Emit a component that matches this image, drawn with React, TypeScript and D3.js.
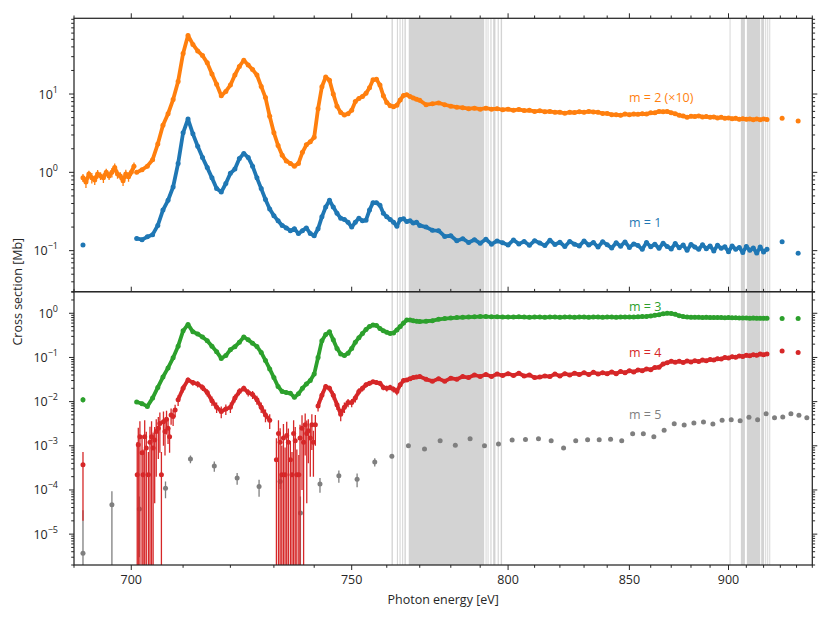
import * as d3 from 'd3'

// energy axis is logarithmic in (E - 600 eV)
const E0 = 600

// measurement grids [eV]
const fineEnergy = d3.range(701, 771)
const coarseEnergy = d3.range(772, 923, 2)
const tailEnergy = [931.1, 941.0]
const headEnergy = [691.5]
const m2HeadEnergy = d3.range(691.5, 701, 0.5)
const m5Energy = d3.range(691.5, 947, 5)

// m = 2 (x10), top panel [Mb]
const m2Head = [0.85, 0.75, 0.95, 0.85, 0.8, 0.95, 0.9, 0.85, 1.0, 0.9, 1.0, 1.15, 0.95, 0.9, 0.78, 0.95, 0.88, 1.0, 1.2]
const m2HeadErr = [0.1, 0.12, 0.1, 0.13, 0.11, 0.12, 0.1, 0.12, 0.11, 0.1, 0.14, 0.15, 0.12, 0.1, 0.11, 0.13, 0.12, 0.11, 0.14]
const m2Fine = [
  1.0, 1.08, 1.2, 1.45, 2.3, 4.0, 5.6, 8.5, 14.5, 33,
  56, 43, 35.5, 31, 25, 18, 13.3, 9.5, 10.8, 13,
  17.5, 22.5, 27, 23.5, 20.5, 17.5, 12.5, 9, 5.2, 3.2,
  2.2, 1.65, 1.4, 1.3, 1.2, 1.3, 1.8, 2.25, 2.45, 2.8,
  6.5, 12.4, 16.5, 15, 10, 7.0, 5.8, 5.4, 5.6, 6.2,
  8.0, 8.8, 9.3, 10.2, 12, 15.2, 15.4, 13, 9.5, 7.8,
  7.1, 6.9, 7.2, 8.4, 9.6, 9.8, 9.3, 8.9, 8.6, 8.3,
]
const m2Coarse = [
  7.3, 7.5, 7.7, 7.3, 7.0, 6.8, 6.7, 6.5, 6.6, 6.4,
  6.6, 6.4, 6.5, 6.3, 6.4, 6.2, 6.35, 6.15, 6.2, 6.0,
  6.1, 5.95, 6.0, 5.85, 5.85, 5.7, 5.85, 5.8, 5.95, 5.85,
  6.0, 5.9, 5.85, 5.65, 5.65, 5.45, 5.45, 5.35, 5.55, 5.45,
  5.55, 5.5, 5.6, 5.55, 5.75, 5.75, 6.0, 5.95, 6.0, 5.75,
  5.6, 5.35, 5.25, 5.05, 5.2, 5.15, 5.25, 5.1, 5.15, 5.05,
  5.1, 4.95, 5.05, 4.9, 4.95, 4.85, 4.9, 4.75, 4.85, 4.75,
  4.8, 4.7, 4.8, 4.7, 4.8, 4.72,
]
const m2Tail = [4.9, 4.52]

// m = 1, top panel [Mb]
const m1Head = [0.118]
const m1Fine = [
  0.143, 0.138, 0.15, 0.16, 0.21, 0.33, 0.44, 0.65, 1.3, 3.2,
  4.8, 3.1, 2.15, 1.55, 1.15, 0.85, 0.62, 0.56, 0.72, 0.97,
  1.1, 1.5, 1.74, 1.55, 1.2, 0.85, 0.62, 0.45, 0.34, 0.28,
  0.24, 0.21, 0.195, 0.18, 0.19, 0.165, 0.18, 0.195, 0.165, 0.155,
  0.19, 0.27, 0.36, 0.44, 0.36, 0.3, 0.26, 0.25, 0.23, 0.2,
  0.23, 0.26, 0.24, 0.245, 0.33, 0.41, 0.41, 0.38, 0.3, 0.27,
  0.25, 0.23, 0.205, 0.25, 0.255, 0.235, 0.24, 0.225, 0.23, 0.21,
]
const m1Coarse = [
  0.2, 0.182, 0.18, 0.152, 0.155, 0.134, 0.142, 0.127, 0.138, 0.124,
  0.14, 0.121, 0.133, 0.126, 0.118, 0.137, 0.122, 0.131, 0.117, 0.134,
  0.125, 0.116, 0.136, 0.12, 0.128, 0.113, 0.131, 0.121, 0.115, 0.133,
  0.118, 0.127, 0.111, 0.13, 0.119, 0.108, 0.126, 0.114, 0.129, 0.11,
  0.122, 0.116, 0.104, 0.127, 0.112, 0.121, 0.107, 0.124, 0.113, 0.105,
  0.123, 0.109, 0.118, 0.101, 0.12, 0.111, 0.104, 0.119, 0.106, 0.115,
  0.099, 0.117, 0.107, 0.112, 0.097, 0.115, 0.104, 0.11, 0.095, 0.113,
  0.101, 0.108, 0.093, 0.111, 0.096, 0.104,
]
const m1Tail = [0.13, 0.0925]

// m = 3, bottom panel [Mb]
const m3Head = [0.011]
const m3HeadErr = [0.0015]
const m3Fine = [
  0.0098, 0.009, 0.0078, 0.012, 0.021, 0.036, 0.058, 0.098, 0.18, 0.4,
  0.56, 0.38, 0.34, 0.29, 0.24, 0.18, 0.135, 0.095, 0.11, 0.15,
  0.175, 0.22, 0.29, 0.25, 0.21, 0.176, 0.13, 0.085, 0.055, 0.035,
  0.022, 0.017, 0.016, 0.0155, 0.0125, 0.015, 0.02, 0.025, 0.03, 0.042,
  0.1, 0.24, 0.33, 0.38, 0.25, 0.16, 0.12, 0.11, 0.125, 0.16,
  0.22, 0.28, 0.35, 0.43, 0.5, 0.54, 0.53, 0.45, 0.4, 0.37,
  0.35, 0.36, 0.42, 0.5, 0.6, 0.7, 0.7, 0.68, 0.66, 0.65,
]
const m3Coarse = [
  0.66, 0.68, 0.73, 0.76, 0.78, 0.8, 0.81, 0.82, 0.83, 0.84,
  0.84, 0.83, 0.83, 0.82, 0.82, 0.82, 0.83, 0.82, 0.81, 0.82,
  0.82, 0.81, 0.82, 0.82, 0.81, 0.82, 0.82, 0.81, 0.82, 0.82,
  0.81, 0.82, 0.82, 0.81, 0.82, 0.82, 0.81, 0.82, 0.82, 0.82,
  0.82, 0.83, 0.84, 0.85, 0.87, 0.9, 0.93, 0.97, 1.0, 0.99,
  0.95, 0.88, 0.84, 0.82, 0.81, 0.81, 0.81, 0.8, 0.81, 0.8,
  0.8, 0.8, 0.8, 0.79, 0.8, 0.79, 0.79, 0.78, 0.78, 0.78,
  0.77, 0.78, 0.77, 0.77, 0.77, 0.77,
]
const m3Tail = [0.76, 0.76]

// m = 4, bottom panel [Mb]; noisy stretches are kept apart with their error bars
const m4Head = [3.7e-4]
const m4HeadErr = [3.5e-4]
const m4Fine = [
  null, null, null, null, null, null, null, null, 0.011, 0.02,
  0.031, 0.027, 0.025, 0.021, 0.016, 0.0105, 0.0075, 0.006, 0.0068, 0.0075,
  0.012, 0.017, 0.02, 0.016, 0.0145, 0.011, 0.0075, 0.005, 0.0038, null,
  null, null, null, null, null, null, null, null, null, null,
  0.008, 0.014, 0.022, 0.02, 0.014, 0.0085, 0.0052, 0.0075, 0.0095, 0.0095,
  0.012, 0.017, 0.02, 0.024, 0.026, 0.028, 0.027, 0.026, 0.021, 0.02,
  0.021, 0.019, 0.017, 0.024, 0.03, 0.031, 0.033, 0.035, 0.036, 0.037,
]
const m4FineErr = [
  0, 0, 0, 0, 0, 0, 0, 0, 0.003, 0.004,
  0.004, 0.004, 0.004, 0.0035, 0.003, 0.0025, 0.002, 0.0018, 0.0018, 0.002,
  0.0025, 0.003, 0.003, 0.003, 0.003, 0.0025, 0.002, 0.0016, 0.0014, 0,
  0, 0, 0, 0, 0, 0, 0, 0, 0, 0,
  0.002, 0.003, 0.003, 0.003, 0.003, 0.002, 0.0016, 0.002, 0.002, 0.002,
  0.0025, 0.003, 0.003, 0.003, 0.003, 0.003, 0.003, 0.003, 0.003, 0.003,
  0.003, 0.003, 0.003, 0.003, 0.003, 0.003, 0.003, 0.003, 0.003, 0.003,
]
const m4Coarse = [
  0.032, 0.029, 0.033, 0.029, 0.034, 0.032, 0.037, 0.035, 0.04, 0.037,
  0.041, 0.037, 0.042, 0.039, 0.043, 0.039, 0.044, 0.038, 0.04, 0.035,
  0.036, 0.038, 0.037, 0.042, 0.038, 0.043, 0.04, 0.044, 0.041, 0.045,
  0.041, 0.046, 0.042, 0.045, 0.043, 0.047, 0.043, 0.048, 0.045, 0.05,
  0.047, 0.052, 0.05, 0.055, 0.053, 0.059, 0.06, 0.071, 0.076, 0.082,
  0.078, 0.082, 0.077, 0.083, 0.079, 0.084, 0.081, 0.087, 0.084, 0.09,
  0.087, 0.094, 0.092, 0.1, 0.097, 0.104, 0.101, 0.108, 0.105, 0.112,
  0.109, 0.115, 0.112, 0.119, 0.115, 0.12,
]
const m4Tail = [0.14, 0.13]
const m4NoisyEnergy = [
  701.1, 701.3, 701.6, 702.0, 702.2, 702.5, 702.8, 703.2, 703.5, 703.8, 704.1, 704.4,
  704.7, 705.1, 705.4, 705.7, 706.1, 706.4, 706.7, 707.0, 707.3, 707.6, 708.0, 708.4,
  730.6, 731.1, 731.5, 731.9, 732.3, 732.7, 733.1, 733.5, 734.0, 734.4, 734.8, 735.2,
  735.6, 736.1, 736.4, 736.9, 737.3, 737.7, 738.1, 738.5, 739.0, 739.4, 739.8, 740.3,
]
const m4Noisy = [
  2.2e-4, 1.05e-3, 1.6e-3, 7e-4, 2.2e-4, 1.6e-3, 8.9e-4, 2.2e-4, 1.2e-3, 1.6e-3, 8.9e-4, 1.35e-3,
  2.1e-3, 2.5e-3, 3.2e-3, 2.2e-4, 3.5e-3, 2.1e-3, 4.0e-3, 2.5e-3, 1.6e-3, 5.0e-3, 4.6e-3, 6.5e-3,
  4.8e-4, 1.9e-3, 1.2e-3, 2.2e-4, 1.5e-3, 2.2e-4, 1.7e-3, 1.2e-3, 4.8e-4, 2.2e-4, 1.9e-3, 1.3e-3,
  2.2e-4, 2.2e-4, 1.5e-3, 2.5e-3, 1.2e-3, 3.0e-3, 1.9e-3, 2.2e-3, 1.5e-3, 3.0e-3, 1.2e-3, 3.0e-3,
]
const m4NoisyErr = [
  1.0e-3, 1.5e-3, 2.0e-3, 1.0e-3, 6e-4, 2.2e-3, 1.2e-3, 5e-4, 1.5e-3, 2.0e-3, 1.1e-3, 1.3e-3,
  1.9e-3, 2.0e-3, 2.5e-3, 5e-4, 2.5e-3, 1.5e-3, 2.2e-3, 1.4e-3, 0.9e-3, 2.0e-3, 1.8e-3, 2.0e-3,
  1.0e-3, 1.9e-3, 1.3e-3, 8e-4, 1.6e-3, 7e-4, 1.8e-3, 1.25e-3, 8e-4, 5e-4, 1.9e-3, 1.35e-3,
  6e-4, 4e-4, 1.5e-3, 2.4e-3, 1.2e-3, 2.4e-3, 1.85e-3, 1.8e-3, 1.3e-3, 2.2e-3, 1.0e-3, 2.0e-3,
]

// m = 5, bottom panel [Mb], 5 eV bins
const m5 = [
  3.7e-6, 4.6e-5, 3.7e-5, 1.1e-4, 5.0e-4, 3.5e-4, 1.86e-4, 1.2e-4, 1.55e-4, 3.0e-5, 1.37e-4, 2.1e-4, 1.75e-4, 4.3e-4, 5.8e-4,
  1.0e-3, 8.5e-4, 1.3e-3, 1.03e-3, 1.45e-3, 1.0e-3, 1.1e-3, 1.35e-3, 1.38e-3, 1.45e-3, 1.3e-3, 8.9e-4, 1.3e-3,
  1.37e-3, 1.37e-3, 1.4e-3, 1.3e-3, 1.87e-3, 1.87e-3, 1.6e-3, 2.25e-3, 3.15e-3, 2.95e-3, 3.3e-3, 3.45e-3, 3.1e-3,
  3.8e-3, 3.9e-3, 3.7e-3, 4.4e-3, 3.9e-3, 5.3e-3, 4.3e-3, 4.5e-3, 5.3e-3, 4.9e-3, 4.3e-3,
]
const m5Err = [
  3.1e-5, 4.7e-5, 3.4e-5, 4.5e-5, 1.0e-4, 0.9e-4, 0.55e-4, 0.5e-4, 0.5e-4, 4.1e-5, 0.5e-4, 0.65e-4, 0.6e-4, 0.9e-4, 0.6e-4,
  0.8e-4, 0.8e-4, 0.9e-4, 0.8e-4, 0.9e-4, 0.8e-4, 0.8e-4, 0.9e-4, 0.9e-4, 0.9e-4, 0.9e-4, 0.8e-4, 0.9e-4,
  0.9e-4, 0.9e-4, 0.9e-4, 0.9e-4, 1.0e-4, 1.0e-4, 1.0e-4, 1.2e-4, 1.4e-4, 1.4e-4, 1.5e-4, 1.5e-4, 1.5e-4,
  1.6e-4, 1.6e-4, 1.6e-4, 1.8e-4, 1.7e-4, 2.0e-4, 1.8e-4, 1.9e-4, 2.0e-4, 2.0e-4, 1.9e-4,
]

// shaded energy windows [eV]
const bands = [
  [761.4, 761.8], [763.0, 763.3], [763.8, 764.1], [764.6, 764.9], [765.3, 765.7], [766.6, 791.4],
  [791.9, 792.1], [792.6, 792.9], [793.6, 794.0], [794.6, 795.4], [796.2, 796.6], [797.3, 797.8],
  [900.6, 901.1], [906.9, 909.2], [910.3, 918.0], [918.6, 920.3], [921.0, 921.5], [922.2, 922.6], [923.4, 923.9],
]

const xMajor = [700, 750, 800, 850, 900]
const xMinor = d3.range(690, 951, 10).filter((e) => !xMajor.includes(e))

const BLUE = '#1f77b4'
const ORANGE = '#ff7f0e'
const GREEN = '#2ca02c'
const RED = '#d62728'
const GRAY = '#7f7f7f'
const INK = '#262626'
const FONT = '"Open Sans", "DejaVu Sans", sans-serif'

const width = 830
const height = 623
const left = 74
const right = 812.3
const top = 18.3
const mid = 291.7
const bottom = 565

const minorLog = (lo: number, hi: number) => {
  const out: number[] = []
  for (let k = Math.floor(Math.log10(lo)); k <= Math.ceil(Math.log10(hi)); k++) {
    for (let m = 2; m < 10; m++) {
      const v = m * Math.pow(10, k)
      if (v >= lo && v <= hi) out.push(v)
    }
  }
  return out
}

const Series = ({ xs, vs, y, color, errs, line, px }: any) => {
  const pts = xs.map((e: number, i: number) => ({ e, v: vs[i], err: errs ? errs[i] : 0 }))
  const [ymin] = y.domain()
  const path = d3
    .line<any>()
    .defined((d) => d.v != null)
    .x((d) => px(d.e))
    .y((d) => y(d.v))
  const shown = pts.filter((d: any) => d.v != null)
  return (
    <g>
      {line && (
        <path d={path(pts) || ''} fill="none" stroke={color} strokeWidth={3.8} strokeLinejoin="round" strokeLinecap="round" />
      )}
      {shown
        .filter((d: any) => d.err > 0)
        .map((d: any, i: number) => {
          const lo = d.v - d.err > ymin ? y(d.v - d.err) : y(ymin) + 2
          return <line key={'e' + i} x1={px(d.e)} x2={px(d.e)} y1={y(d.v + d.err)} y2={lo} stroke={color} strokeWidth={1.3} />
        })}
      {shown.map((d: any, i: number) => (
        <circle key={i} cx={px(d.e)} cy={y(d.v)} r={2.5} fill={color} />
      ))}
    </g>
  )
}

const LogAxis = ({ y, majors }: any) => {
  const [lo, hi] = y.domain()
  const minors = minorLog(lo, hi)
  return (
    <g stroke={INK} strokeWidth={1}>
      {majors.map((v: number) => {
        const k = Math.round(Math.log10(v))
        return (
          <g key={v}>
            <line x1={left - 5} x2={left} y1={y(v)} y2={y(v)} />
            <line x1={right} x2={right + 5} y1={y(v)} y2={y(v)} />
            <text x={58} y={y(v) + 4.5} textAnchor="end" fontSize={12.5} fill={INK} stroke="none">
              10
              <tspan dy={-6} fontSize={9}>
                {k < 0 ? '\u2212' + -k : k}
              </tspan>
            </text>
          </g>
        )
      })}
      {minors.map((v: number) => (
        <g key={'m' + v}>
          <line x1={left - 2.8} x2={left} y1={y(v)} y2={y(v)} />
          <line x1={right} x2={right + 2.8} y1={y(v)} y2={y(v)} />
        </g>
      ))}
    </g>
  )
}

export default function App() {
  const x = d3.scaleLog().domain([690 - E0, 950 - E0]).range([left, right])
  const px = (e: number) => x(e - E0)
  const yTop = d3.scaleLog().domain([0.0299, 92.7]).range([mid, top])
  const yBot = d3.scaleLog().domain([2.0e-6, 3.08]).range([bottom, mid])

  const energy = [...fineEnergy, ...coarseEnergy]
  const noCoarseErr = coarseEnergy.map(() => 0)

  return (
    <svg width={width} height={height} style={{ position: 'absolute', left: 0, top: 0 }} fontFamily={FONT}>
      <rect width={width} height={height} fill="#fff" />
      <defs>
        <clipPath id="clipTop">
          <rect x={left} y={top} width={right - left} height={mid - top} />
        </clipPath>
        <clipPath id="clipBot">
          <rect x={left} y={mid} width={right - left} height={bottom - mid} />
        </clipPath>
      </defs>

      {bands.map(([a, b], i) => (
        <rect key={i} x={px(a)} y={top} width={Math.max(px(b) - px(a), 0.9)} height={bottom - top} fill="#d3d3d3" />
      ))}

      <g clipPath="url(#clipTop)">
        <Series xs={m2HeadEnergy} vs={m2Head} errs={m2HeadErr} y={yTop} color={ORANGE} line px={px} />
        <Series xs={energy} vs={[...m2Fine, ...m2Coarse]} y={yTop} color={ORANGE} line px={px} />
        <Series xs={tailEnergy} vs={m2Tail} y={yTop} color={ORANGE} px={px} />
        <Series xs={headEnergy} vs={m1Head} y={yTop} color={BLUE} px={px} />
        <Series xs={energy} vs={[...m1Fine, ...m1Coarse]} y={yTop} color={BLUE} line px={px} />
        <Series xs={tailEnergy} vs={m1Tail} y={yTop} color={BLUE} px={px} />
      </g>

      <g clipPath="url(#clipBot)">
        <Series xs={m5Energy} vs={m5} errs={m5Err} y={yBot} color={GRAY} px={px} />
        <Series xs={headEnergy} vs={m4Head} errs={m4HeadErr} y={yBot} color={RED} px={px} />
        <Series xs={m4NoisyEnergy} vs={m4Noisy} errs={m4NoisyErr} y={yBot} color={RED} px={px} />
        <Series xs={energy} vs={[...m4Fine, ...m4Coarse]} errs={[...m4FineErr, ...noCoarseErr]} y={yBot} color={RED} line px={px} />
        <Series xs={tailEnergy} vs={m4Tail} y={yBot} color={RED} px={px} />
        <Series xs={headEnergy} vs={m3Head} errs={m3HeadErr} y={yBot} color={GREEN} px={px} />
        <Series xs={energy} vs={[...m3Fine, ...m3Coarse]} y={yBot} color={GREEN} line px={px} />
        <Series xs={tailEnergy} vs={m3Tail} y={yBot} color={GREEN} px={px} />
      </g>

      <g fontSize={12.5}>
        <text x={629} y={101.5} fill={ORANGE}>m = 2 (×10)</text>
        <text x={629} y={226.5} fill={BLUE}>m = 1</text>
        <text x={629} y={311} fill={GREEN}>m = 3</text>
        <text x={629} y={357} fill={RED}>m = 4</text>
        <text x={629} y={418.5} fill={GRAY}>m = 5</text>
      </g>

      <LogAxis y={yTop} majors={[0.1, 1, 10]} />
      <LogAxis y={yBot} majors={[1e-5, 1e-4, 1e-3, 1e-2, 1e-1, 1]} />

      <g stroke={INK} strokeWidth={1}>
        {xMajor.map((e) => (
          <g key={e}>
            <line x1={px(e)} x2={px(e)} y1={top - 5} y2={top} />
            <line x1={px(e)} x2={px(e)} y1={mid - 5} y2={mid} />
            <line x1={px(e)} x2={px(e)} y1={bottom} y2={bottom + 5} />
          </g>
        ))}
        {xMinor.map((e) => (
          <g key={'m' + e}>
            <line x1={px(e)} x2={px(e)} y1={top - 2.8} y2={top} />
            <line x1={px(e)} x2={px(e)} y1={mid - 2.8} y2={mid} />
            <line x1={px(e)} x2={px(e)} y1={bottom} y2={bottom + 2.8} />
          </g>
        ))}
      </g>
      {xMajor.map((e) => (
        <text key={'t' + e} x={px(e)} y={584} textAnchor="middle" fontSize={12.5} fill={INK}>
          {e}
        </text>
      ))}

      <g fill="none" stroke={INK} strokeWidth={1.25}>
        <rect x={left} y={top} width={right - left} height={mid - top} />
        <rect x={left} y={mid} width={right - left} height={bottom - mid} />
      </g>

      <text x={(left + right) / 2} y={604} textAnchor="middle" fontSize={12.5} fill={INK}>
        Photon energy [eV]
      </text>
      <text transform={`translate(22,${(top + bottom) / 2}) rotate(-90)`} textAnchor="middle" fontSize={12.5} fill={INK}>
        Cross section [Mb]
      </text>
    </svg>
  )
}
